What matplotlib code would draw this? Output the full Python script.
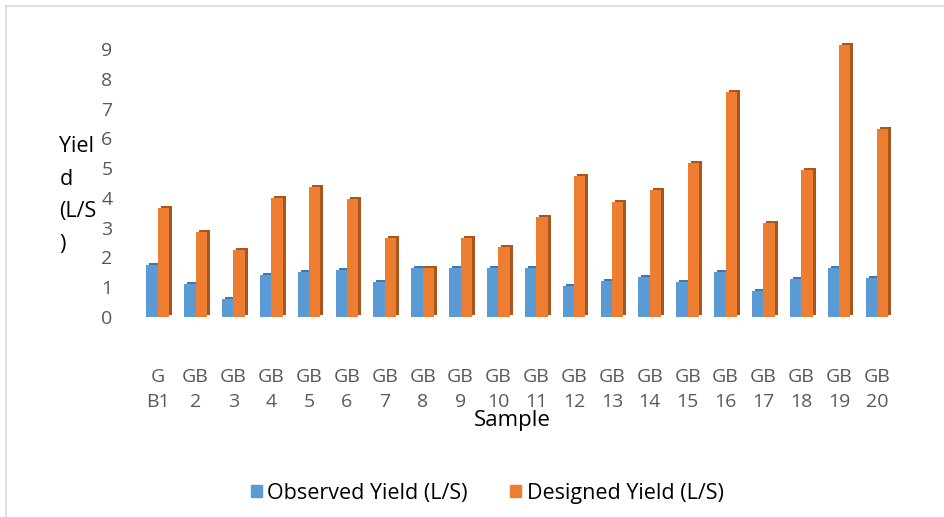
import matplotlib
matplotlib.use("Agg")
import matplotlib.pyplot as plt
import matplotlib.transforms as mtrans
from matplotlib.lines import Line2D
from matplotlib.patches import Patch
import numpy as np

# data
samples = ["GB1", "GB2", "GB3", "GB4", "GB5", "GB6", "GB7", "GB8", "GB9", "GB10",
           "GB11", "GB12", "GB13", "GB14", "GB15", "GB16", "GB17", "GB18", "GB19", "GB20"]
tick_labels = ["G\nB1"] + ["GB\n" + s[2:] for s in samples[1:]]
observed = [1.75, 1.1, 0.6, 1.4, 1.52, 1.58, 1.18, 1.65, 1.65, 1.65,
            1.65, 1.04, 1.21, 1.35, 1.18, 1.51, 0.87, 1.28, 1.65, 1.31]
designed = [3.67, 2.86, 2.25, 4.0, 4.38, 3.97, 2.66, 1.65, 2.66, 2.36,
            3.37, 4.75, 3.87, 4.27, 5.18, 7.57, 3.16, 4.95, 9.15, 6.3]

blue, blue_side = "#5B9BD5", "#3F78AE"
orange, orange_side = "#ED7D31", "#A8561E"
gray = "#595959"
plt.rcParams['font.family'] = ['Open Sans', 'DejaVu Sans']

fig = plt.figure(figsize=(9.44, 5.17), dpi=100)
ax = fig.add_axes([0.147, 0.387, 0.802, 0.5354])

x = np.arange(len(samples))
w = 0.3

# fake 3d side: darker copies shifted a bit right/up
shift = ax.transData + mtrans.ScaledTranslation(3 / 100, 2 / 100, fig.dpi_scale_trans)
for vals, off, col in [(observed, -w / 2, blue_side), (designed, w / 2, orange_side)]:
    side = ax.bar(x + off, vals, w, color=col, zorder=1)
    for p in side:
        p.set_transform(shift)

ax.bar(x - w / 2, observed, w, color=blue, zorder=2, label="Observed Yield (L/S)")
ax.bar(x + w / 2, designed, w, color=orange, zorder=2, label="Designed Yield (L/S)")

ax.set_xlim(-0.5, 19.5)
ax.set_ylim(0, 9.3)
ax.set_yticks(range(0, 10))
ax.set_xticks(x)
ax.set_xticklabels(tick_labels, linespacing=1.5)
ax.tick_params(axis='y', length=0, pad=19, labelsize=14, labelcolor=gray)
ax.tick_params(axis='x', length=0, pad=37, labelsize=14, labelcolor=gray)
for s in ax.spines.values():
    s.set_visible(False)

fig.text(0.063, 0.622, "Yiel\nd\n(L/S\n)", fontsize=15.5, color="black",
         ha="left", va="center", linespacing=1.72)
fig.text(0.543, 0.186, "Sample", fontsize=16, ha="center", va="center")

handles = [Patch(color=blue, label="Observed Yield (L/S)"),
           Patch(color=orange, label="Designed Yield (L/S)")]
fig.legend(handles=handles, loc="center", bbox_to_anchor=(0.516, 0.046), ncol=2,
           frameon=False, fontsize=15.5, handlelength=0.5, handleheight=0.5,
           handletextpad=0.25, columnspacing=2.0)

# light chart border (left and top visible)
fig.add_artist(Line2D([6 / 944, 6 / 944], [0, 1 - 6 / 517], color="#d9d9d9", lw=1.2))
fig.add_artist(Line2D([6 / 944, 1], [1 - 6 / 517, 1 - 6 / 517], color="#d9d9d9", lw=1.2))

fig.savefig("out.png", dpi=100)
